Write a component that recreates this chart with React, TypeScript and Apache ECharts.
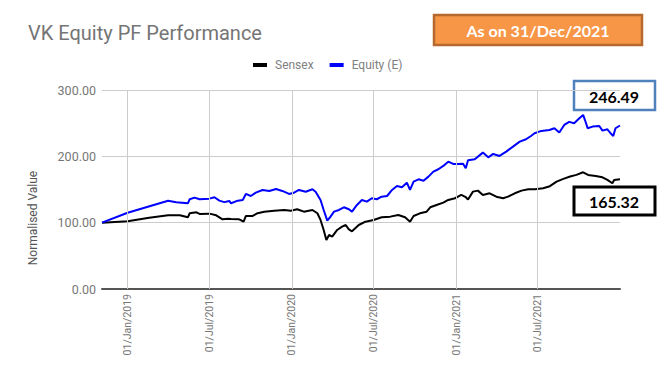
import React, { useEffect, useRef } from "react";
import * as echarts from "echarts";

const titleText = "VK Equity PF Performance";
const asOnText = "As on 31/Dec/2021";
const yAxisTitle = "Normalised Value";
const equityLastLabel = "246.49";
const sensexLastLabel = "165.32";
const yTicks = [0, 100, 200, 300];
const xTickDates = ["2019-01-01", "2019-07-01", "2020-01-01", "2020-07-01", "2021-01-01", "2021-07-01"];
const monthNames = ["Jan", "Feb", "Mar", "Apr", "May", "Jun", "Jul", "Aug", "Sep", "Oct", "Nov", "Dec"];

const equityDates = [
  "2018-11-05", "2019-01-01", "2019-04-01", "2019-04-19", "2019-05-15", "2019-05-19", "2019-05-30", "2019-06-10",
  "2019-07-02", "2019-07-13", "2019-07-24", "2019-08-04", "2019-08-15", "2019-08-19", "2019-09-03", "2019-09-14",
  "2019-09-21", "2019-10-02", "2019-10-13", "2019-10-28", "2019-11-12", "2019-11-27", "2019-12-11", "2019-12-26",
  "2020-01-06", "2020-01-17", "2020-02-01", "2020-02-16", "2020-02-23", "2020-03-05", "2020-03-12", "2020-03-20",
  "2020-03-26", "2020-04-04", "2020-04-15", "2020-04-26", "2020-05-07", "2020-05-14", "2020-05-25", "2020-06-05",
  "2020-06-16", "2020-06-27", "2020-07-08", "2020-07-19", "2020-07-31", "2020-08-11", "2020-08-22", "2020-09-02",
  "2020-09-13", "2020-09-20", "2020-09-28", "2020-10-09", "2020-10-20", "2020-10-31", "2020-11-11", "2020-11-22",
  "2020-12-03", "2020-12-14", "2020-12-25", "2021-01-05", "2021-01-16", "2021-01-22", "2021-01-27", "2021-02-11",
  "2021-03-01", "2021-03-13", "2021-03-24", "2021-04-07", "2021-04-22", "2021-05-07", "2021-05-22", "2021-06-05",
  "2021-06-16", "2021-06-24", "2021-07-09", "2021-07-27", "2021-08-07", "2021-08-18", "2021-08-29", "2021-09-09",
  "2021-09-20", "2021-10-01", "2021-10-10", "2021-10-16", "2021-10-20", "2021-10-31", "2021-11-15", "2021-11-22",
  "2021-12-03", "2021-12-10", "2021-12-16", "2021-12-21", "2021-12-31",
];
const equityValues = [
  100, 115, 133, 130.7, 129.2, 135.3, 137.7, 135.3,
  136.2, 138.3, 133.2, 131, 132.7, 129.2, 133.2, 134.2,
  143.3, 140.2, 145.2, 149.3, 147.8, 150.8, 147.8, 143.3,
  145.2, 149.3, 146.7, 150.3, 146.7, 134.2, 119.1, 103,
  108.1, 116.6, 119.1, 123.2, 120.2, 116.6, 126.7, 134.2,
  131.7, 136.8, 135.3, 139.2, 140.2, 149.3, 155.3, 153.4,
  160.3, 149.3, 161.8, 165.4, 163.3, 169.4, 176.9, 180.5,
  185.5, 192, 188.5, 188.5, 189, 182, 194, 195.5,
  205.6, 198.5, 203.6, 200.6, 207.1, 214.6, 222.2, 225.7,
  230.7, 234.7, 238.3, 239.8, 242.3, 236, 247.3, 252,
  249.8, 257, 262.4, 251, 242.3, 244.8, 245.8, 238.8,
  240.8, 234.8, 230.7, 242.3, 246.5,
];

const sensexDates = [
  "2018-11-05", "2019-01-01", "2019-02-18", "2019-04-01", "2019-04-27", "2019-05-15", "2019-05-19", "2019-06-03",
  "2019-06-10", "2019-07-02", "2019-07-17", "2019-07-31", "2019-08-12", "2019-08-19", "2019-09-06", "2019-09-16",
  "2019-09-21", "2019-10-06", "2019-10-17", "2019-11-01", "2019-11-23", "2019-12-15", "2019-12-30", "2020-01-13",
  "2020-01-28", "2020-02-16", "2020-02-27", "2020-03-05", "2020-03-12", "2020-03-18", "2020-03-24", "2020-03-31",
  "2020-04-11", "2020-04-22", "2020-04-30", "2020-05-07", "2020-05-14", "2020-05-29", "2020-06-13", "2020-07-01",
  "2020-07-19", "2020-08-07", "2020-08-25", "2020-09-09", "2020-09-20", "2020-09-28", "2020-10-12", "2020-10-27",
  "2020-11-04", "2020-11-18", "2020-12-03", "2020-12-14", "2020-12-29", "2021-01-12", "2021-01-21", "2021-01-27",
  "2021-02-07", "2021-02-18", "2021-03-01", "2021-03-16", "2021-03-31", "2021-04-15", "2021-04-26", "2021-05-11",
  "2021-05-26", "2021-06-10", "2021-06-25", "2021-07-13", "2021-07-28", "2021-08-12", "2021-08-27", "2021-09-11",
  "2021-09-25", "2021-10-10", "2021-10-21", "2021-11-07", "2021-11-22", "2021-12-03", "2021-12-14", "2021-12-18",
  "2021-12-31",
];
const sensexValues = [
  100, 102, 107.5, 111.1, 111.1, 108.1, 114.2, 115.7,
  113.1, 113.6, 111.1, 105.1, 106, 105.6, 105.1, 101.5,
  110.1, 110.1, 114.2, 116.6, 118.1, 119.1, 118.1, 120.2,
  116.6, 119.1, 114.2, 104.1, 89, 73.9, 81.4, 78.9,
  89, 94, 96.5, 90, 87, 96.5, 101.5, 104.1,
  108.1, 109.1, 111.6, 108.1, 101.5, 110.1, 114.1, 116.6,
  123.2, 126.7, 130.2, 134.2, 136.8, 141.8, 139, 135,
  146.8, 148.3, 141.8, 144.3, 139.2, 136.7, 139.2, 144.3,
  148.3, 150.3, 150.3, 151.8, 155, 161.8, 166, 169.5,
  172, 176, 171.9, 170.4, 168.4, 164.4, 159.4, 164.4,
  165.3,
];

const pad2 = (n: number) => (n < 10 ? "0" + n : "" + n);
const fmtDate = (v: number) => {
  const d = new Date(v);
  return pad2(d.getDate()) + "/" + monthNames[d.getMonth()] + "/" + d.getFullYear();
};

export default function App() {
  const ref = useRef<HTMLDivElement>(null);
  useEffect(() => {
    if (!ref.current) return;
    const chart = echarts.init(ref.current, undefined, { renderer: "svg" });
    const DAY = 24 * 3600 * 1000;
    chart.setOption({
      animation: false,
      backgroundColor: "#ffffff",
      textStyle: { fontFamily: "Roboto" },
      title: {
        text: titleText,
        left: 23,
        top: 18,
        textStyle: { fontFamily: "Roboto", fontSize: 20, fontWeight: "normal", color: "#757575" },
      },
      legend: {
        top: 54,
        left: 248,
        icon: "rect",
        itemWidth: 14,
        itemHeight: 4,
        itemGap: 16,
        textStyle: { color: "#808080", fontSize: 12, fontFamily: "Roboto", padding: [0, 0, 0, 3] },
        data: ["Sensex", "Equity (E)"],
      },
      grid: { left: 102, right: 51, top: 90, bottom: 99, containLabel: false },
      xAxis: {
        type: "time",
        min: "2018-11-05",
        max: "2021-12-31",
        minInterval: 180 * DAY,
        maxInterval: 185 * DAY,
        axisLine: { show: true, lineStyle: { color: "#555", width: 2 } },
        axisTick: { show: false },
        splitLine: { show: false },
        axisLabel: {
          rotate: 90,
          margin: 5,
          color: "#777777",
          fontSize: 10.5,
          fontFamily: "Roboto",
          showMinLabel: false,
          showMaxLabel: false,
          formatter: (v: number) => fmtDate(v),
        },
      },
      yAxis: {
        type: "value",
        min: yTicks[0],
        max: yTicks[yTicks.length - 1],
        interval: yTicks[1] - yTicks[0],
        axisLine: { show: false },
        axisTick: { show: false },
        splitLine: { show: true, lineStyle: { color: "#cccccc", width: 1 } },
        axisLabel: {
          color: "#777777",
          fontSize: 12.5,
          margin: 6,
          fontFamily: "Roboto",
          formatter: (v: number) => v.toFixed(2),
        },
      },
      series: [
        {
          name: "xgrid",
          type: "line",
          data: [],
          markLine: {
            silent: true,
            symbol: "none",
            label: { show: false },
            lineStyle: { color: "#cccccc", width: 1, type: "solid" },
            data: xTickDates.map((d) => ({ xAxis: d })),
          },
        },
        {
          name: "Sensex",
          type: "line",
          showSymbol: false,
          color: "#000000",
          lineStyle: { width: 2, color: "#000000" },
          data: sensexDates.map((d, i) => [d, sensexValues[i]]),
        },
        {
          name: "Equity (E)",
          type: "line",
          showSymbol: false,
          color: "#0000ff",
          lineStyle: { width: 2, color: "#0000ff" },
          data: equityDates.map((d, i) => [d, equityValues[i]]),
        },
      ],
      graphic: [
        {
          type: "text",
          x: 33,
          y: 218,
          rotation: Math.PI / 2,
          style: {
            text: yAxisTitle,
            fill: "#555555",
            font: "12px Roboto",
            align: "center",
            verticalAlign: "middle",
          },
        },
        {
          type: "rect",
          shape: { x: 434, y: 15, width: 208, height: 30 },
          style: { fill: "#f79646", stroke: "#b5692e", lineWidth: 2.5 },
        },
        {
          type: "text",
          x: 538,
          y: 30,
          style: {
            text: asOnText,
            fill: "#ffffff",
            font: "bold 16px Lato",
            align: "center",
            verticalAlign: "middle",
          },
        },
        {
          type: "rect",
          shape: { x: 574, y: 81, width: 81, height: 29 },
          style: { fill: "#ffffff", stroke: "#4f81bd", lineWidth: 2.5 },
        },
        {
          type: "text",
          x: 614,
          y: 96,
          style: {
            text: equityLastLabel,
            fill: "#000000",
            font: "bold 16px Lato",
            align: "center",
            verticalAlign: "middle",
          },
        },
        {
          type: "rect",
          shape: { x: 574, y: 187, width: 81, height: 28 },
          style: { fill: "#ffffff", stroke: "#000000", lineWidth: 3 },
        },
        {
          type: "text",
          x: 614,
          y: 201,
          style: {
            text: sensexLastLabel,
            fill: "#000000",
            font: "bold 16px Lato",
            align: "center",
            verticalAlign: "middle",
          },
        },
      ],
    });
    return () => chart.dispose();
  }, []);
  return (
    <div
      ref={ref}
      style={{ position: "fixed", left: 0, top: 0, width: 671, height: 388, background: "#fff" }}
    />
  );
}
